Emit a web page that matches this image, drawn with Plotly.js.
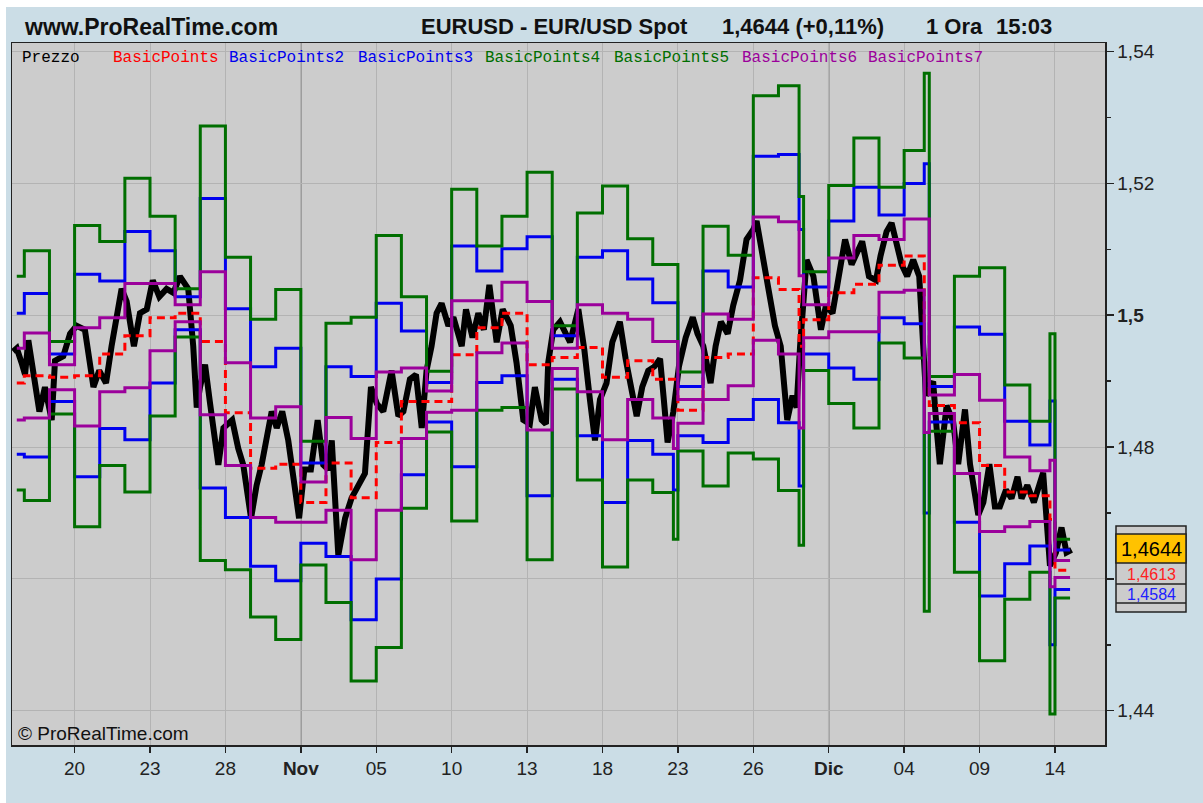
<!DOCTYPE html>
<html><head><meta charset="utf-8">
<script src="https://cdn.plot.ly/plotly-3.0.1.min.js"></script>
<style>html,body{margin:0;padding:0;background:#fff;} #chart{width:1203px;height:803px;}</style>
</head><body><div id="chart"></div>
<script>
// ---------- DATA ----------
// x unit = trading day index (0 = start of Oct 20)
const tickDays   = [0, 3, 6, 9, 12, 15, 18, 21, 24, 27, 30, 33, 36, 39];
const tickLabels = ['20','23','28','<b>Nov</b>','05','10','13','18','23','26','<b>Dic</b>','04','09','14'];
const yTickVals  = [1.44, 1.46, 1.48, 1.50, 1.52, 1.54];
// the 1,46 label sits under the last-value box in the reference, so it is left blank
const yTickText  = ['1,44','','1,48','<b>1,5</b>','1,52','1,54'];
const yMinorVals = [1.45, 1.47, 1.49, 1.51, 1.53];

const seriesNames = ['Prezzo','BasicPoints','BasicPoints2','BasicPoints3','BasicPoints4','BasicPoints5','BasicPoints6','BasicPoints7'];

// daily pivot levels: step starts (days) and values
const dayStarts = [-2.3, -2, -1, 0,1,2,3,4,5,6,7,8,9,10,11,12,13,14,15,16,17,18,19,20,21,22,23,24,25,26,27,28,29,30,31,32,33,34,35,36,37,38,39];
const endDay = 39.6;
const bp  = [1.4897,1.4908,1.4906,1.4908,1.4941,1.4969,1.4996,1.5003,1.4960,1.4852,1.4768,1.4774,1.4716,1.4776,1.4723,1.4807,1.4869,1.4869,1.4940,1.4981,1.5003,1.4925,1.4936,1.4951,1.4906,1.4931,1.4903,1.4856,1.4936,1.4941,1.5057,1.5039,1.4993,1.5034,1.5047,1.5076,1.5090,1.4863,1.4837,1.4772,1.4732,1.4726,1.4613];
const bp2 = [1.5003,1.5033,1.4941,1.5062,1.5052,1.5127,1.5098,1.5028,1.5177,1.5010,1.4922,1.4950,1.4776,1.4922,1.4907,1.5018,1.4976,1.4898,1.5105,1.5067,1.5101,1.5119,1.4969,1.5088,1.5098,1.5055,1.5019,1.4892,1.5067,1.5043,1.5241,1.5244,1.5043,1.5143,1.5194,1.5152,1.5200,1.4892,1.4982,1.4971,1.4839,1.4803,1.4644];
const bp3 = [1.4789,1.4785,1.4869,1.4755,1.4828,1.4811,1.4897,1.4978,1.4738,1.4693,1.4619,1.4597,1.4654,1.4634,1.4538,1.4600,1.4758,1.4838,1.4770,1.4898,1.4908,1.4726,1.4903,1.4817,1.4716,1.4810,1.4789,1.4817,1.4807,1.4842,1.4872,1.4837,1.4941,1.4920,1.4903,1.4996,1.4987,1.4838,1.4686,1.4574,1.4623,1.4650,1.4584];
const bp4 = [1.5059,1.5098,1.4960,1.5136,1.5112,1.5208,1.5150,1.5040,1.5287,1.5088,1.4994,1.5039,1.4809,1.4988,1.4997,1.5121,1.5028,1.4915,1.5191,1.5105,1.5150,1.5217,1.4984,1.5155,1.5196,1.5116,1.5077,1.4914,1.5135,1.5091,1.5333,1.5348,1.5066,1.5197,1.5269,1.5194,1.5250,1.4907,1.5059,1.5072,1.4894,1.4839,1.4660];
const bp5 = [1.4735,1.4719,1.4850,1.4679,1.4772,1.4732,1.4847,1.4967,1.4628,1.4614,1.4542,1.4508,1.4621,1.4564,1.4445,1.4496,1.4707,1.4823,1.4688,1.4856,1.4860,1.4629,1.4888,1.4750,1.4618,1.4750,1.4731,1.4794,1.4741,1.4791,1.4782,1.4734,1.4916,1.4866,1.4829,1.4958,1.4935,1.4824,1.4610,1.4476,1.4569,1.4610,1.4571];
const bp6 = [1.4950,1.4973,1.4925,1.4981,1.4996,1.5048,1.5048,1.5016,1.5066,1.4928,1.4844,1.4861,1.4747,1.4845,1.4813,1.4914,1.4920,1.4885,1.5022,1.5022,1.5050,1.5021,1.4950,1.5016,1.5003,1.4994,1.4960,1.4872,1.5002,1.4994,1.5149,1.5142,1.5016,1.5087,1.5121,1.5115,1.5146,1.4879,1.4910,1.4871,1.4785,1.4764,1.4628];
const bp7 = [1.4841,1.4844,1.4887,1.4832,1.4884,1.4890,1.4946,1.4990,1.4849,1.4772,1.4693,1.4686,1.4686,1.4704,1.4629,1.4704,1.4813,1.4853,1.4856,1.4943,1.4958,1.4826,1.4919,1.4884,1.4811,1.4872,1.4844,1.4836,1.4872,1.4893,1.4962,1.4941,1.4966,1.4975,1.4975,1.5035,1.5038,1.4851,1.4760,1.4672,1.4679,1.4687,1.4602];

// short Sunday-session segments before some Mondays
const sundayStarts = [23.82, 28.82, 33.80, 38.80];
const sunBP  = [1.4903, 1.4953, 1.4990, 1.4690];
const sunBP2 = [1.5019, 1.5130, 1.5230, 1.4870];
const sunBP3 = [1.4735, 1.4741, 1.4700, 1.4500];
const sunBP4 = [1.5077, 1.5180, 1.5367, 1.4972];
const sunBP5 = [1.4660, 1.4651, 1.4551, 1.4395];
const sunBP6 = [1.4960, 1.5060, 1.5146, 1.4780];
const sunBP7 = [1.4798, 1.4829, 1.4822, 1.4588];

// price (hourly, sampled)
const priceDay = [-2.45,-2.30,-2.11,-1.97,-1.84,-1.64,-1.40,-1.18,-0.91,-0.78,-0.45,-0.18,0.08,0.41,0.75,0.98,1.25,1.47,1.67,1.87,2.07,2.36,2.60,2.87,3.11,3.37,3.66,3.93,4.19,4.52,4.72,4.86,4.99,5.19,5.39,5.72,5.92,6.27,6.51,6.71,7.02,7.24,7.44,7.64,7.84,8.04,8.26,8.50,8.73,8.93,9.14,9.40,9.67,9.89,10.09,10.23,10.49,10.76,11.02,11.29,11.55,11.79,12.02,12.28,12.61,12.88,13.08,13.34,13.58,13.81,14.00,14.20,14.40,14.60,14.87,15.07,15.40,15.57,15.83,16.06,16.28,16.50,16.79,17.03,17.35,17.58,17.85,18.11,18.31,18.58,18.75,18.84,19.04,19.31,19.57,19.71,20.04,20.28,20.50,20.70,20.90,21.16,21.39,21.69,21.92,22.13,22.36,22.58,22.82,23.06,23.29,23.44,23.59,23.82,24.04,24.31,24.59,24.78,25.01,25.30,25.50,25.71,25.98,26.20,26.47,26.73,27.00,27.13,27.37,27.60,27.86,28.09,28.35,28.56,28.72,28.86,29.12,29.39,29.69,29.89,30.15,30.38,30.65,30.91,31.14,31.33,31.60,31.88,32.06,32.30,32.50,32.70,32.90,33.12,33.36,33.60,33.73,33.87,34.05,34.16,34.29,34.42,34.69,34.95,35.15,35.42,35.62,35.82,35.95,36.15,36.39,36.61,36.81,37.05,37.27,37.51,37.67,37.90,38.16,38.53,38.80,39.04,39.26,39.46,39.66];
const priceVal = [1.4945,1.4950,1.4928,1.4910,1.4962,1.4910,1.4854,1.4891,1.4841,1.4931,1.4938,1.4972,1.4984,1.4978,1.4891,1.4916,1.4897,1.4953,1.5003,1.5040,1.5021,1.4953,1.5003,1.5009,1.5053,1.5028,1.5040,1.5034,1.5059,1.5040,1.4953,1.4860,1.4891,1.4925,1.4866,1.4773,1.4829,1.4841,1.4798,1.4773,1.4692,1.4742,1.4773,1.4816,1.4854,1.4829,1.4854,1.4810,1.4754,1.4692,1.4766,1.4766,1.4841,1.4773,1.4766,1.4810,1.4636,1.4692,1.4723,1.4742,1.4760,1.4891,1.4866,1.4854,1.4916,1.4847,1.4854,1.4903,1.4910,1.4829,1.4916,1.4953,1.5003,1.5018,1.4984,1.4997,1.4953,1.5009,1.4966,1.5003,1.4978,1.5046,1.4959,1.5009,1.4984,1.4928,1.4841,1.4835,1.4891,1.4841,1.4835,1.4928,1.4978,1.4990,1.4972,1.4959,1.5009,1.4947,1.4872,1.4810,1.4872,1.4897,1.4959,1.4990,1.4934,1.4891,1.4847,1.4891,1.4916,1.4922,1.4934,1.4872,1.4807,1.4854,1.4922,1.4966,1.4997,1.4972,1.4953,1.4897,1.4953,1.4990,1.4972,1.5015,1.5053,1.5115,1.5130,1.5143,1.5084,1.5040,1.4984,1.4953,1.4841,1.4878,1.4860,1.4953,1.5084,1.5059,1.4978,1.5015,1.5003,1.5059,1.5115,1.5077,1.5096,1.5112,1.5059,1.5053,1.5090,1.5127,1.5140,1.5109,1.5077,1.5059,1.5084,1.5059,1.4984,1.4878,1.4897,1.4896,1.4829,1.4774,1.4863,1.4838,1.4774,1.4857,1.4774,1.4729,1.4697,1.4716,1.4774,1.4710,1.4710,1.4735,1.4722,1.4755,1.4722,1.4742,1.4716,1.4761,1.4620,1.4640,1.4678,1.4640,1.4644];

// header / box texts
const siteText = 'www.ProRealTime.com';
const titleParts = ['EURUSD - EUR/USD Spot', '1,4644 (+0,11%)', '1 Ora', '15:03'];
const boxTexts = ['1,4644', '1,4613', '1,4584'];
const copyText = '© ProRealTime.com';

// ---------- BUILD ----------
function stepSeries(vals, sunVals) {
  const xs = [], ys = [];
  for (let i = 0; i < dayStarts.length; i++) {
    xs.push(dayStarts[i]); ys.push(vals[i]);
    const next = i + 1 < dayStarts.length ? dayStarts[i + 1] : endDay;
    sundayStarts.forEach((s, j) => {
      if (s > dayStarts[i] && s < next) { xs.push(s); ys.push(sunVals[j]); }
    });
  }
  xs.push(endDay); ys.push(vals[vals.length - 1]);
  return { xs, ys };
}

const COL = { black:'#000000', red:'#ff0000', blue:'#0000ee', green:'#006e00', purple:'#9b009b' };
const specs = [
  [bp,  sunBP,  COL.red,    'dash'],
  [bp2, sunBP2, COL.blue,   'solid'],
  [bp3, sunBP3, COL.blue,   'solid'],
  [bp4, sunBP4, COL.green,  'solid'],
  [bp5, sunBP5, COL.green,  'solid'],
  [bp6, sunBP6, COL.purple, 'solid'],
  [bp7, sunBP7, COL.purple, 'solid']
];

const traces = [{
  x: priceDay, y: priceVal, type: 'scatter', mode: 'lines', name: seriesNames[0],
  line: { color: COL.black, width: 6 }
}];
specs.forEach((s, k) => {
  const st = stepSeries(s[0], s[1]);
  traces.push({
    x: st.xs, y: st.ys, type: 'scatter', mode: 'lines', name: seriesNames[k + 1],
    line: { color: s[2], width: 3, shape: 'hv', dash: s[3] === 'dash' ? '8px,5px' : 'solid' }
  });
});

// pixel -> paper helpers (plot area: x 12..1105, y 43..745)
const L = 12, R = 1105, T = 43, B = 745;
const px = x => (x - L) / (R - L);
const py = y => (B - y) / (B - T);

const annotations = [];
function addText(text, x, y, size, color, family, anchor) {
  annotations.push({ text, x: px(x), y: py(y), xref:'paper', yref:'paper',
    xanchor: anchor || 'left', yanchor:'middle', showarrow:false,
    font:{ family: family, size: size, color: color } });
}
const headFont = 'Liberation Sans, Arial, sans-serif';
addText('<b>' + siteText + '</b>', 22, 27, 23, '#111', headFont);
addText('<b>' + titleParts[0] + '</b>', 419, 27, 22, '#111', headFont);
addText('<b>' + titleParts[1] + '</b>', 720, 27, 22, '#111', headFont);
addText('<b>' + titleParts[2] + '</b>', 924, 27, 22, '#111', headFont);
addText('<b>' + titleParts[3] + '</b>', 994, 27, 22, '#111', headFont);

// in-plot legend labels
const legendX = [20, 111, 227, 356, 483, 612, 740, 866];
const legendCol = [COL.black, COL.red, COL.blue, COL.blue, COL.green, COL.green, COL.purple, COL.purple];
seriesNames.forEach((n, i) => addText(n, legendX[i], 58, 16, legendCol[i], 'Liberation Mono, DejaVu Sans Mono, monospace'));

addText(copyText, 16, 733, 19, '#111', headFont);

// value box texts
addText(boxTexts[0], 1151, 549, 20, '#000', headFont, 'center');
addText(boxTexts[1], 1151, 574, 16, '#ff2020', headFont, 'center');
addText(boxTexts[2], 1151, 594, 16, '#2020ff', headFont, 'center');

const shapes = [];
// white margin strips
shapes.push({ type:'rect', xref:'paper', yref:'paper', x0:px(0), x1:px(1203), y0:py(0), y1:py(7), fillcolor:'#ffffff', line:{width:0}, layer:'above' });
shapes.push({ type:'rect', xref:'paper', yref:'paper', x0:px(0), x1:px(6), y0:py(0), y1:py(803), fillcolor:'#ffffff', line:{width:0}, layer:'above' });
// darker month grid lines
tickLabels.forEach((t, i) => {
  if (t.indexOf('<b>') === 0) {
    shapes.push({ type:'line', xref:'x', yref:'paper', x0:tickDays[i], x1:tickDays[i], y0:0, y1:1, line:{ color:'#7c7c7c', width:1.5 }, layer:'below' });
  }
});
// value box
shapes.push({ type:'rect', xref:'paper', yref:'paper', x0:px(1116), x1:px(1186), y0:py(612), y1:py(526), fillcolor:'#cccccc', line:{color:'#222', width:1.5}, layer:'above' });
shapes.push({ type:'rect', xref:'paper', yref:'paper', x0:px(1116), x1:px(1186), y0:py(563), y1:py(534), fillcolor:'#ffc200', line:{color:'#222', width:1.5}, layer:'above' });
[584, 603].forEach(yy => shapes.push({ type:'line', xref:'paper', yref:'paper', x0:px(1116), x1:px(1186), y0:py(yy), y1:py(yy), line:{color:'#222', width:1.5}, layer:'above' }));

const layout = {
  width: 1203, height: 803,
  margin: { l: L, r: 1203 - R, t: T, b: 803 - B, pad: 0 },
  paper_bgcolor: '#cbdde6',
  plot_bgcolor: '#cccccc',
  showlegend: false,
  hovermode: false,
  xaxis: {
    range: [-2.49, 40.99], tickmode:'array', tickvals: tickDays, ticktext: tickLabels,
    ticks:'outside', ticklen:6, tickwidth:1.5, tickcolor:'#222',
    showgrid:true, gridcolor:'#b3b3b3', gridwidth:1,
    showline:true, mirror:true, linecolor:'#222', linewidth:1.5, zeroline:false,
    tickfont:{ family: headFont, size: 19, color:'#222' }, fixedrange:true
  },
  yaxis: {
    side:'right', range:[1.4348, 1.5413], tickmode:'array', tickvals: yTickVals, ticktext: yTickText,
    ticks:'outside', ticklen:7, tickwidth:1.5, tickcolor:'#222',
    minor:{ tickmode:'array', tickvals: yMinorVals, ticks:'outside', ticklen:4, tickwidth:1.5, tickcolor:'#222', showgrid:false },
    showgrid:true, gridcolor:'#b3b3b3', gridwidth:1,
    showline:true, mirror:true, linecolor:'#222', linewidth:1.5, zeroline:false,
    tickfont:{ family: headFont, size: 19, color:'#222' }, fixedrange:true
  },
  annotations, shapes
};

Plotly.newPlot('chart', traces, layout, { staticPlot:true, displayModeBar:false });
</script></body></html>
